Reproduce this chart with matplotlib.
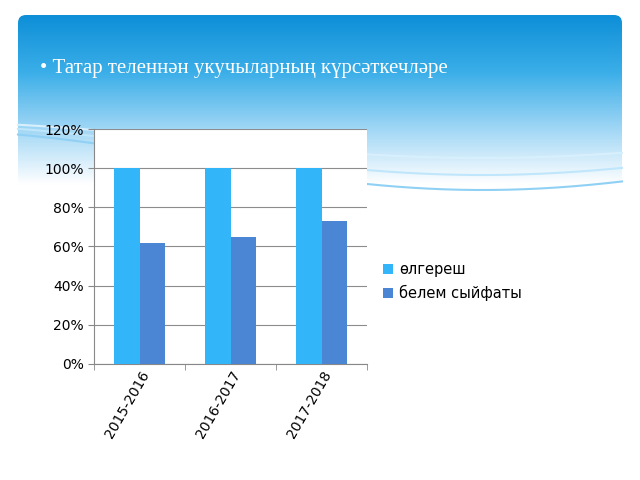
import matplotlib
matplotlib.use("Agg")
import matplotlib.pyplot as plt
import numpy as np
from matplotlib.patches import FancyBboxPatch
from matplotlib.colors import LinearSegmentedColormap

years = ["2015-2016", "2016-2017", "2017-2018"]
olgeresh = [1.00, 1.00, 1.00]
belem = [0.62, 0.65, 0.73]
yticks = [0, 0.2, 0.4, 0.6, 0.8, 1.0, 1.2]

fig = plt.figure(figsize=(6.4, 4.8), dpi=100)
bg = fig.add_axes([0, 0, 1, 1])
bg.set_xlim(0, 640); bg.set_ylim(480, 0); bg.axis("off")
grad = np.linspace(0, 1, 200).reshape(-1, 1)
cmap = LinearSegmentedColormap.from_list("h", ["#0e8fd8", "#3aaee8", "#9fd6f5", "#ffffff"])
im = bg.imshow(grad, extent=[18, 622, 185, 15], cmap=cmap, aspect="auto", zorder=0)
clip = FancyBboxPatch((18, 15), 604, 200, boxstyle="round,pad=0,rounding_size=8",
                      transform=bg.transData, facecolor="none", edgecolor="none")
bg.add_patch(clip)
im.set_clip_path(clip)
xs = np.linspace(18, 622, 300)
for a, off, c in [(25, 150, "#bfe6fb"), (18, 140, "#d8f0fd"), (30, 160, "#8fd0f4")]:
    ys = off + a * np.sin((xs - 200) / 180)
    bg.plot(xs, ys, color=c, lw=1.5, zorder=1)
bg.text(40, 68, "• Татар теленнән укучыларның күрсәткечләре", color="white",
        fontsize=15, family="Liberation Serif", va="center")

ax = fig.add_axes([0.147, 0.242, 0.427, 0.489])
ax.set_facecolor("white")
x = np.arange(len(years))
w = 0.28
ax.bar(x - w / 2, olgeresh, w, color="#33b5fa", label="өлгереш", zorder=3)
ax.bar(x + w / 2, belem, w, color="#4a86d3", label="белем сыйфаты", zorder=3)
ax.set_ylim(0, 1.2)
ax.set_xlim(-0.5, 2.5)
ax.set_yticks(yticks)
ax.set_yticklabels([f"{int(round(v*100))}%" for v in yticks], fontsize=10)
ax.set_xticks(x)
ax.set_xticklabels(years, rotation=60, ha="right", rotation_mode="anchor", fontsize=10)
ax.set_xticks([-0.5, 0.5, 1.5, 2.5], minor=True)
ax.tick_params(axis="x", which="major", length=0)
ax.tick_params(axis="x", which="minor", length=4, color="#888888")
ax.tick_params(axis="y", length=4, color="#888888")
ax.grid(axis="y", color="#8c8c8c", lw=0.8, zorder=0)
for s in ["top", "right"]:
    ax.spines[s].set_visible(False)
for s in ["left", "bottom"]:
    ax.spines[s].set_color("#888888")
ax.legend(loc="center left", bbox_to_anchor=(1.01, 0.35), frameon=False, fontsize=10.5,
          handlelength=0.7, handleheight=0.7, handletextpad=0.4)
fig.savefig("out.png", dpi=100)
